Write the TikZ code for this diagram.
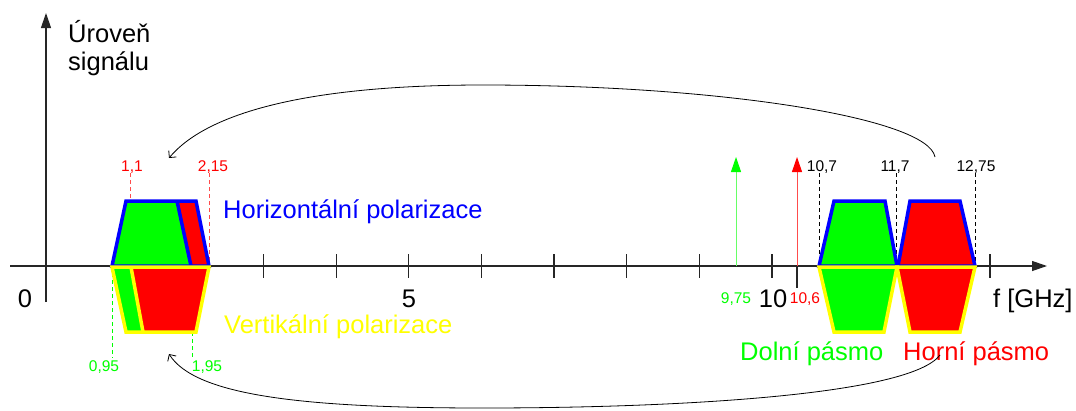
\documentclass[tikz,border=0pt]{standalone}
\usepackage{fontspec}
\setmainfont{Liberation Sans}
\usetikzlibrary{arrows.meta}
\definecolor{zelena}{HTML}{00FF00}
\definecolor{cervena}{HTML}{FF0000}
\definecolor{modra}{HTML}{0000FF}
\definecolor{zluta}{HTML}{FFFF00}
\newcommand{\velke}{\fontsize{25.5}{28}\selectfont}
\newcommand{\male}{\fontsize{15.5}{18}\selectfont}

\begin{document}
\begin{tikzpicture}[x=1pt, y=-1pt,
    osa/.style={line width=1.2pt, black!85},
    carka/.style={line width=0.8pt, dash pattern=on 4pt off 3pt},
    hran/.style={line width=3.5pt, draw=modra},
    vran/.style={line width=3.5pt, draw=zluta},
    popis/.style={inner sep=0pt, anchor=base},
    oblouk/.style={line width=0.8pt, -{Straight Barb[length=5pt,width=10pt]}},
    nosna/.style={line width=1pt, -{Triangle[length=15pt,width=10pt]}}]
  \useasboundingbox (0,0) rectangle (1076,410);
  % Osy
  \coordinate (x0) at (10,266);
  \coordinate (x1) at (1047,266);
  \coordinate (y0) at (46,302);
  \coordinate (y1) at (46,13);
  \draw[osa, -{Triangle[length=15pt,width=10pt]}] (x0) -- (x1);
  \draw[osa, -{Triangle[length=15pt,width=10pt]}] (y0) -- (y1);
  \foreach \k in {1,...,13} {
    \draw[osa] ({45.5+72.65*\k},254) -- ({45.5+72.65*\k},278);
  }
  \draw[osa] (797,266) -- (797,288);
  \node[popis, font=\velke] (n0) at (25,307) {0};
  \node[popis, font=\velke] (n5) at (409,307) {5};
  \node[popis, font=\velke] (n10) at (773,307) {10};
  \node[popis, font=\velke, anchor=base west] (fghz) at (993,307) {f [GHz]};
  \node[popis, font=\velke, anchor=base west] (uroven) at (68,42) {Úroveň};
  \node[popis, font=\velke, anchor=base west] (signal) at (68,70) {signálu};
  % Meze pasem
  \draw[carka, cervena!70] (130,173) -- (130,201);
  \draw[carka, cervena!70] (209,173) -- (209,266);
  \draw[carka, zelena] (112,266) -- (112,358);
  \draw[carka, zelena] (192,332) -- (192,358);
  \draw[carka, black] (819,173) -- (819,266);
  \draw[carka, black] (896,173) -- (896,266);
  \draw[carka, black] (975,173) -- (975,266);
  % Mezifrekvence
  \fill[zelena] (112,266) -- (126,201) -- (177,201) -- (191,266) -- cycle;
  \fill[cervena] (177,201) -- (196,201) -- (209,266) -- (191,266) -- cycle;
  \draw[hran] (112,266) -- (126,201) -- (196,201) -- (209,266) -- cycle;
  \draw[hran] (177,201) -- (191,266);
  \fill[zelena] (112,267) -- (131,267) -- (143,332) -- (126,332) -- cycle;
  \fill[cervena] (131,267) -- (209,267) -- (196,332) -- (143,332) -- cycle;
  \draw[vran] (112,267) -- (209,267) -- (196,332) -- (126,332) -- cycle;
  \draw[vran] (131,267) -- (143,332);
  % Pasma
  \filldraw[hran, fill=zelena] (819,266) -- (834,201) -- (885,201) -- (897,266) -- cycle;
  \filldraw[hran, fill=cervena] (898,266) -- (910,201) -- (960,201) -- (975,266) -- cycle;
  \filldraw[vran, fill=zelena] (819,267) -- (897,267) -- (884,332) -- (834,332) -- cycle;
  \filldraw[vran, fill=cervena] (897,267) -- (975,267) -- (960,332) -- (910,332) -- cycle;
  % Oscilatory
  \coordinate (lof1) at (736,266);
  \coordinate (lof1t) at (736,157);
  \coordinate (lof2) at (797,266);
  \coordinate (lof2t) at (797,157);
  \draw[nosna, zelena!60, -{Triangle[length=15pt,width=10pt,color=zelena]}] (lof1) -- (lof1t);
  \draw[nosna, cervena!70, -{Triangle[length=15pt,width=10pt,color=cervena]}] (lof2) -- (lof2t);
  % Popisky
  \node[popis, font=\male, cervena] (f11) at (132,171) {1,1};
  \node[popis, font=\male, cervena] (f215) at (213,171) {2,15};
  \node[popis, font=\male, zelena] (f095) at (104,371) {0,95};
  \node[popis, font=\male, zelena] (f195) at (207,371) {1,95};
  \node[popis, font=\male, zelena] (f975) at (736,303) {9,75};
  \node[popis, font=\male, cervena] (f106) at (805,303) {10,6};
  \node[popis, font=\male] (f107) at (822,171) {10,7};
  \node[popis, font=\male] (f117) at (895,171) {11,7};
  \node[popis, font=\male] (f1275) at (976,171) {12,75};
  \node[popis, font=\velke, modra, anchor=base west] (hpol) at (223,218) {Horizontální polarizace};
  \node[popis, font=\velke, zluta, anchor=base west] (vpol) at (224,333) {Vertikální polarizace};
  \node[popis, font=\velke, zelena, anchor=base west] (dolni) at (740,360) {Dolní pásmo};
  \node[popis, font=\velke, cervena, anchor=base west] (horni) at (903,360) {Horní pásmo};
  % Prevod
  \coordinate (hz) at (935,157);
  \coordinate (hk) at (169,158);
  \coordinate (vz) at (940,355);
  \coordinate (vk) at (169,354);
  \draw[oblouk] (hz) .. controls (928,118) and (720,85) .. (483,85) .. controls (300,85) and (205,115) .. (hk);
  \draw[oblouk] (vz) .. controls (910,395) and (680,408) .. (483,408) .. controls (300,408) and (195,395) .. (vk);
\end{tikzpicture}
\end{document}
